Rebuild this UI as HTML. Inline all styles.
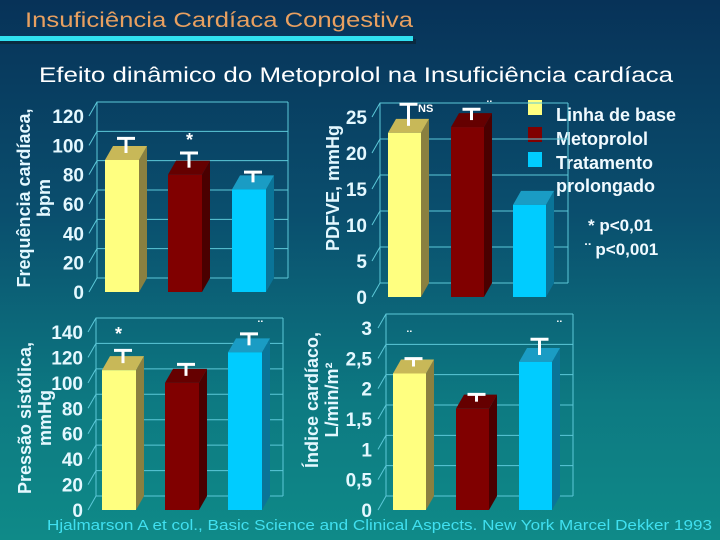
<!DOCTYPE html>
<html><head><meta charset="utf-8">
<style>
html,body{margin:0;padding:0;}
body{width:720px;height:540px;overflow:hidden;background:linear-gradient(180deg,#073258 0%,#0a4f6e 40%,#0d7a82 75%,#0f8a88 100%);font-family:"Liberation Sans",sans-serif;}
svg{position:absolute;left:0;top:0;}
</style></head>
<body>
<svg id="s" width="720" height="540" xmlns="http://www.w3.org/2000/svg">
  <text x="25" y="27" font-size="21" fill="#e8a060" textLength="388" lengthAdjust="spacingAndGlyphs">Insuficiência Cardíaca Congestiva</text>
  <rect x="0" y="39" width="416" height="5" fill="#0a2a40"/>
  <rect x="0" y="36" width="413" height="5" fill="#30e0f0"/>
  <text x="39" y="82" font-size="21" fill="#ffffff" textLength="634" lengthAdjust="spacingAndGlyphs">Efeito dinâmico do Metoprolol na Insuficiência cardíaca</text>
  <g font-size="18" font-weight="bold" fill="#f0faff">
    <rect x="528" y="100" width="14" height="15" fill="#ffff80"/>
    <rect x="528" y="127" width="14" height="15" fill="#800000"/>
    <rect x="528" y="152" width="14" height="15" fill="#00ccff"/>
    <text x="556" y="121">Linha de base</text>
    <text x="556" y="145">Metoprolol</text>
    <text x="556" y="169">Tratamento</text>
    <text x="556" y="192">prolongado</text>
    <text x="588" y="231" font-size="17">* p&lt;0,01</text>
    <text x="585" y="255" font-size="17">¨ p&lt;0,001</text>
  </g>
  <text x="47" y="530" font-size="15" fill="#40e0f0" textLength="665" lengthAdjust="spacingAndGlyphs">Hjalmarson A et col., Basic Science and Clinical Aspects. New York Marcel Dekker 1993</text>
  <g id="charts"></g>
</svg>
<script>
// Chart data
const hrValues = [90, 80, 70];
const hrErrors = [10, 10, 7];
const hrTicks = ["0","20","40","60","80","100","120"];
const pdValues = [22.8, 23.6, 12.8];
const pdErrors = [3, 1.5, 0];
const pdTicks = ["0","5","10","15","20","25"];
const sbpValues = [110, 100, 124];
const sbpErrors = [10, 9, 9];
const sbpTicks = ["0","20","40","60","80","100","120","140"];
const ciValues = [2.25, 1.67, 2.44];
const ciErrors = [0.13, 0.12, 0.26];
const ciTicks = ["0","0,5","1","1,5","2","2,5","3"];

const NS = "http://www.w3.org/2000/svg";
const root = document.getElementById('charts');
const fronts = ["#ffff80", "#800000", "#00ccff"];
const tops = ["#c8b858", "#650000", "#1a9cc4"];
const sides = ["#8a8040", "#4a0000", "#0a7498"];
const seriesNames = ["baseline", "metoprolol", "prolonged"];

function mk(tag, attrs, parent) {
  const e = document.createElementNS(NS, tag);
  for (const k in attrs) e.setAttribute(k, attrs[k]);
  (parent || root).appendChild(e);
  return e;
}

function chart(cfg, values, errors, ticks) {
  const g = mk('g', {});
  
  
  const dx = 8, dy = -14;
  const tickVals = ticks.map(t => parseFloat(t.replace(',', '.')));
  const maxV = tickVals[tickVals.length - 1];
  const yS = v => cfg.y0 - (v / maxV) * (cfg.y0 - cfg.yTop);
  tickVals.forEach((v, i) => {
    const y = yS(v);
    const gl = mk('polyline', {points: `${cfg.axisX},${y} ${cfg.axisX + dx},${y + dy} ${cfg.right},${y + dy}`, fill: 'none', stroke: '#5cc8d8', 'stroke-width': 1}, g);
    
    
    const t = mk('text', {x: cfg.labelX, y: y + 7, 'text-anchor': 'end', 'font-size': 19, 'font-weight': 'bold', fill: '#e4f8ff'}, g);
    t.textContent = ticks[i];
    
    
  });
  const wl = mk('line', {x1: cfg.axisX + dx, y1: yS(0) + dy, x2: cfg.axisX + dx, y2: yS(maxV) + dy, stroke: '#5cc8d8'}, g);
  
  
  const wr = mk('line', {x1: cfg.right, y1: yS(0) + dy, x2: cfg.right, y2: yS(maxV) + dy, stroke: '#5cc8d8'}, g);
  
  
  values.forEach((v, i) => {
    const x = cfg.barX[i], w = cfg.barW;
    const yt = yS(v), yb = yS(0);
    const bg = mk('g', {}, g);
    
    
    mk('polygon', {points: `${x + w},${yt} ${x + w + dx},${yt + dy} ${x + w + dx},${yb + dy} ${x + w},${yb}`, fill: sides[i]}, bg);
    mk('polygon', {points: `${x},${yt} ${x + dx},${yt + dy} ${x + w + dx},${yt + dy} ${x + w},${yt}`, fill: tops[i]}, bg);
    mk('rect', {x: x, y: yt, width: w, height: yb - yt, fill: fronts[i]}, bg);
    if (errors[i] > 0) {
      const cx = x + w / 2 + dx / 2;
      const cy = yt + dy / 2;
      const ce = yS(v + errors[i]) + dy / 2;
      const eb = mk('g', {stroke: '#ffffff', 'stroke-width': 3}, g);
      
      
      mk('line', {x1: cx, y1: cy, x2: cx, y2: ce}, eb);
      mk('line', {x1: cx - 9, y1: ce, x2: cx + 9, y2: ce}, eb);
    }
  });
  const tt = mk('text', {transform: `translate(${cfg.titleX},${cfg.titleY}) rotate(-90)`, 'text-anchor': 'middle', 'font-size': 18, 'font-weight': 'bold', fill: '#e4f8ff'}, g);
  cfg.title.forEach((line, i) => {
    const ts = mk('tspan', {x: 0, dy: i === 0 ? 0 : 20}, tt);
    ts.textContent = line;
  });
  
  
  (cfg.marks || []).forEach(m => {
    const t = mk('text', {x: m[1], y: m[2], 'font-size': m[3], 'font-weight': 'bold', fill: '#ffffff'}, g);
    t.textContent = m[0];
    
    
  });
}

chart({name: 'heart-rate-chart', y0: 292, yTop: 116, axisX: 89, right: 288, labelX: 84, barX: [105, 168, 232], barW: 34,
  title: ["Frequência cardíaca,", "bpm"], titleX: 30, titleY: 198, marks: [["*", 186, 146, 18]]}, hrValues, hrErrors, hrTicks);
chart({name: 'lvedp-chart', y0: 297, yTop: 117, axisX: 372, right: 568, labelX: 367, barX: [388, 451, 513], barW: 33,
  title: ["PDFVE, mmHg"], titleX: 339, titleY: 188, marks: [["NS", 418, 112, 11], ["¨", 487, 110, 14]]}, pdValues, pdErrors, pdTicks);
chart({name: 'systolic-pressure-chart', y0: 510, yTop: 332, axisX: 88, right: 283, labelX: 83, barX: [102, 165, 228], barW: 34,
  title: ["Pressão sistólica,", "mmHg"], titleX: 31, titleY: 418, marks: [["*", 115, 340, 18], ["¨", 258, 330, 14]]}, sbpValues, sbpErrors, sbpTicks);
chart({name: 'cardiac-index-chart', y0: 510, yTop: 328, axisX: 378, right: 573, labelX: 372, barX: [393, 456, 519], barW: 33,
  title: ["Índice cardíaco,", "L/min/m²"], titleX: 318, titleY: 400, marks: [["¨", 407, 340, 14], ["¨", 557, 330, 14]]}, ciValues, ciErrors, ciTicks);
</script>
</body></html>
